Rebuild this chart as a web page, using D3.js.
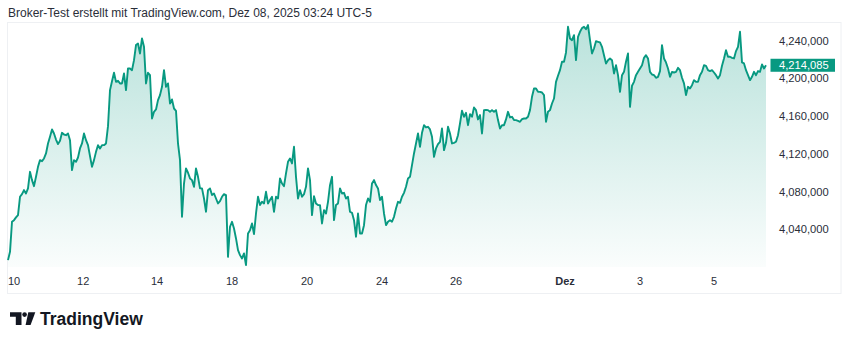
<!DOCTYPE html>
<html><head><meta charset="utf-8">
<script src="https://cdn.jsdelivr.net/npm/d3@7"></script>
<style>html,body{margin:0;padding:0;background:#fff;}svg{display:block;}</style>
</head><body>
<svg id="chart" width="850" height="344"></svg>
<script>
// Price series (in thousands), evenly spaced intraday samples Nov 10 – Dec 8, 2025
const prices = [
4007.3,4016.1,4048.0,4049.7,4052.6,4055.1,4074.5,4077.3,4081.6,4078.0,
4083.4,4101.0,4092.2,4085.8,4095.7,4106.3,4113.4,4112.3,4115.2,4120.5,
4131.1,4138.2,4145.9,4141.7,4135.3,4130.4,4133.9,4142.4,4140.6,4139.9,
4141.7,4134.6,4102.8,4113.4,4111.6,4116.2,4125.8,4131.1,4141.7,4134.6,
4129.3,4117.6,4106.3,4113.4,4122.2,4129.3,4125.8,4129.3,4129.3,4131.1,
4149.5,4187.7,4197.2,4206.1,4196.5,4197.6,4194.8,4194.8,4205.4,4187.7,
4210.7,4210.7,4208.9,4219.5,4235.5,4237.2,4226.6,4242.5,4233.7,4194.8,
4206.1,4203.6,4157.6,4164.7,4167.2,4177.1,4182.4,4191.2,4208.9,4191.2,
4194.8,4173.5,4177.8,4168.2,4165.8,4131.1,4113.4,4053.3,4088.6,4104.6,
4100.0,4094.0,4092.2,4085.1,4104.6,4095.7,4083.4,4083.4,4072.7,4058.6,
4081.6,4083.4,4076.3,4078.0,4072.7,4067.4,4069.9,4074.5,4077.3,4076.3,
4010.8,4042.7,4048.0,4040.9,4030.3,4017.9,4012.6,4009.1,4014.4,4002.0,
4035.6,4039.1,4046.2,4034.9,4056.8,4074.5,4065.7,4069.2,4067.4,4079.8,
4067.4,4071.0,
4074.5,4058.6,4074.5,4072.7,4094.0,4088.6,4085.8,4099.3,4111.6,4115.2,
4109.9,4127.6,4095.7,4072.7,4081.6,4074.5,4077.3,4085.1,4104.6,4092.2,
4055.1,4075.2,4067.4,4065.7,4065.7,4046.2,4060.4,4056.8,4069.2,4086.9,
4095.7,4049.7,4065.7,4067.4,4083.4,4078.0,4078.7,4072.7,4074.5,4058.6,
4057.5,4049.7,4032.1,4056.8,4035.6,4035.6,4044.4,4065.7,4072.7,4069.2,
4088.6,4092.2,4086.9,4083.4,4071.0,4074.5,4056.8,4044.4,4048.0,4049.7,
4048.0,4053.3,4062.1,4069.2,4068.1,4074.5,4078.7,4085.1,4094.0,4095.7,
4108.1,4120.5,4131.1,4141.7,4127.6,4142.4,4150.5,4148.1,4148.8,4146.0,
4138.2,4116.9,4125.8,4130.4,4132.9,4147.0,4124.0,4131.8,4148.8,4141.7,
4131.1,4131.8,4132.9,4139.9,4152.3,4165.8,4159.4,4163.6,4150.5,4162.2,
4159.4,4169.3,4166.5,4156.6,4161.2,4141.7,4166.5,4166.8,4166.5,4164.7,
4166.5,4164.7,4166.5,4155.9,4147.0,4150.5,4150.5,4156.6,4164.7,4158.7,
4159.4,4155.9,4155.9,4155.1,4154.1,4156.9,4157.6,4157.6,4159.4,4166.5,
4180.6,4189.5,4189.5,4185.9,4185.9,
4185.2,4182.4,4154.1,4164.7,4166.5,4173.5,4178.8,4196.5,4202.9,4208.9,
4217.8,4217.8,4227.7,4254.9,4242.5,4240.7,4246.0,4219.5,4244.3,4249.6,
4253.5,4254.9,4252.4,4256.7,4240.7,4226.6,4231.9,4239.7,4239.0,4238.3,
4233.7,4224.8,4216.0,4219.5,4221.3,4219.5,4205.4,4214.2,4203.6,4185.9,
4203.6,4207.1,4217.8,4226.6,4170.0,4192.3,4196.5,4203.6,4207.1,4210.7,
4214.2,4222.0,4224.8,4221.3,4207.1,4204.3,4203.6,4200.8,4201.8,4207.9,
4235.4,4221.3,4217.1,4210.7,4201.8,4207.1,4206.4,4207.1,4211.4,4208.9,
4200.8,4194.8,4182.4,4191.2,4189.5,4193.0,4198.3,4196.5,4196.5,4203.6,
4207.1,4214.2,4213.5,4208.9,4207.9,4208.9,4206.4,4203.6,4200.1,4203.6,
4213.5,4221.3,4230.1,4223.1,4223.1,4222.0,4221.3,4229.1,4233.7,4249.6,
4217.1,4216.0,4208.9,4203.6,4198.3,4201.8,4207.1,4203.6,4207.9,4207.1,
4214.9,4210.7,4214.085
];
const lastPrice = 4214085;
const yTicks = [4040, 4080, 4120, 4160, 4200, 4240];           // thousands
const xTickLabels = ["10","12","14","18","20","24","26","Dez","3","5"];
const xTickIndex  = [3, 37.6, 74.5, 112, 149.5, 187, 224, 278.5, 316, 353];
const xTickBold   = [false,false,false,false,false,false,false,true,false,false];
const title = "Broker-Test erstellt mit TradingView.com, Dez 08, 2025 03:24 UTC-5";

const GREEN = "#089981";
const FONT = "'Liberation Sans', Arial, sans-serif";
const svg = d3.select("#chart");

const plot = {left: 8, right: 766, top: 22, bottom: 267};
const x = d3.scaleLinear().domain([0, prices.length - 1]).range([plot.left, plot.right]);
const y = d3.scaleLinear().domain([4000, 4260]).range([plot.bottom, plot.top]);

// title
svg.append("text").attr("x", 8).attr("y", 17)
  .attr("font-family", FONT).attr("font-size", 12).attr("fill", "#2a2e39")
  .text(title);

// frame
svg.append("rect").attr("x", 7.5).attr("y", 22.5).attr("width", 833.5).attr("height", 271)
  .attr("fill", "none").attr("stroke", "#eef0f3").attr("stroke-width", 1);

// gradient
const defs = svg.append("defs");
const grad = defs.append("linearGradient").attr("id", "fillGrad")
  .attr("gradientUnits", "userSpaceOnUse")
  .attr("x1", 0).attr("y1", y(4256)).attr("x2", 0).attr("y2", plot.bottom);
grad.append("stop").attr("offset", 0).attr("stop-color", GREEN).attr("stop-opacity", 0.28);
grad.append("stop").attr("offset", 1).attr("stop-color", GREEN).attr("stop-opacity", 0.02);

const area = d3.area().x((d, i) => x(i)).y0(plot.bottom).y1(d => y(d));
const line = d3.line().x((d, i) => x(i)).y(d => y(d));

svg.append("path").datum(prices).attr("d", area).attr("fill", "url(#fillGrad)");
svg.append("path").datum(prices).attr("d", line)
  .attr("fill", "none").attr("stroke", GREEN).attr("stroke-width", 1.9)
  .attr("stroke-linejoin", "round");

// y axis (right)
const fmt = d3.format(",");
svg.append("g").selectAll("text").data(yTicks).join("text")
  .attr("x", 779).attr("y", d => y(d)).attr("dy", "0.35em")
  .attr("font-family", FONT).attr("font-size", 11.2).attr("fill", "#2a2e39")
  .text(d => fmt(d * 1000));

// x axis
svg.append("g").selectAll("text").data(xTickLabels).join("text")
  .attr("x", (d, i) => x(xTickIndex[i])).attr("y", 285)
  .attr("text-anchor", "middle")
  .attr("font-family", FONT).attr("font-size", 11).attr("fill", "#2a2e39")
  .attr("font-weight", (d, i) => xTickBold[i] ? "bold" : "normal")
  .text(d => d);

// last price label
const ly = y(lastPrice / 1000);
svg.append("rect").attr("x", 770.5).attr("y", ly - 6.5).attr("width", 64.5).attr("height", 13)
  .attr("fill", GREEN);
svg.append("text").attr("x", 779).attr("y", ly).attr("dy", "0.35em")
  .attr("font-family", FONT).attr("font-size", 11.2).attr("fill", "#fff")
  .text(fmt(lastPrice));

// TradingView logo
const logo = svg.append("g").attr("fill", "#131722");
logo.append("path").attr("d", "M10,312.3 H21.5 V325 H15.8 V316.8 H10 Z");
logo.append("circle").attr("cx", 24.6).attr("cy", 314.6).attr("r", 2.3);
logo.append("path").attr("d", "M28.3,312.3 H35.3 L30.6,325 H25.6 Z");
svg.append("text").attr("x", 40).attr("y", 325)
  .attr("font-family", FONT).attr("font-size", 17.5).attr("font-weight", "bold")
  .attr("fill", "#131722").text("TradingView");
</script>
</body></html>
